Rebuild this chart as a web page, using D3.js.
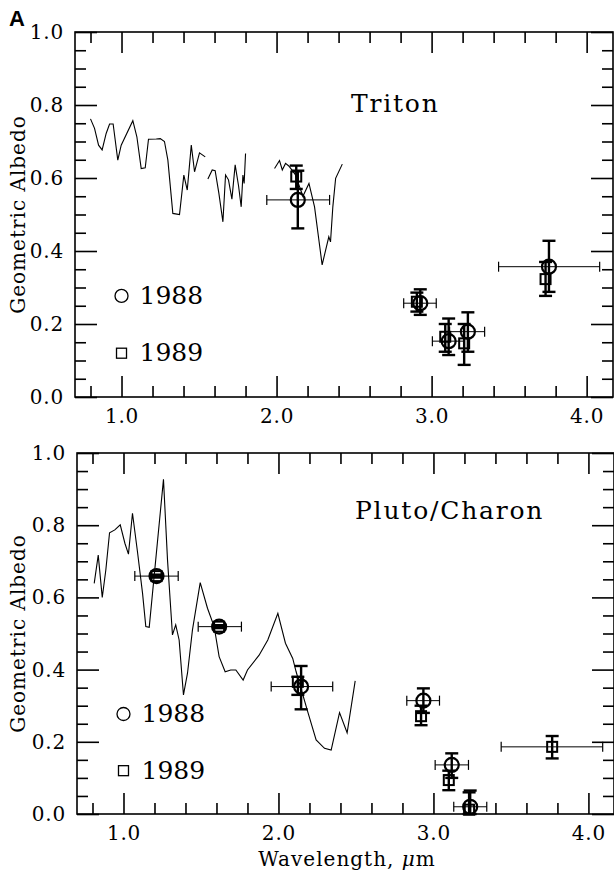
<!DOCTYPE html>
<html>
<head>
<meta charset="utf-8">
<script src="https://cdn.jsdelivr.net/npm/d3@7"></script>
<style>
  body { margin: 0; background: #fff; }
  svg { display: block; }
  .tick text { font-family: "DejaVu Serif", serif; font-size: 20px; letter-spacing: 0.8px; fill: #000; }
  .domain { stroke: none; }
  .tick line { stroke: #000; stroke-width: 1.6; }
</style>
</head>
<body>
<div id="chart"></div>
<script>
// Geometric albedo vs wavelength, Triton (top) and Pluto/Charon (bottom)

// ---- data ----
// Triton spectrum, three pieces [wavelength um, albedo]
var tritonSpec1 = [[0.80,0.762],[0.826,0.736],[0.852,0.690],[0.875,0.677],[0.901,0.722],[0.923,0.748],[0.946,0.748],[0.976,0.649],[0.998,0.690],[1.073,0.757],[1.099,0.713],[1.127,0.626],[1.153,0.628],[1.174,0.706],[1.224,0.707],[1.25,0.708],[1.277,0.700],[1.299,0.649],[1.331,0.503],[1.374,0.500],[1.402,0.608],[1.424,0.567],[1.45,0.690],[1.471,0.617],[1.503,0.669],[1.54,0.658]];
var tritonSpec2 = [[1.557,0.597],[1.585,0.622],[1.604,0.620],[1.628,0.558],[1.654,0.480],[1.671,0.608],[1.69,0.595],[1.712,0.542],[1.733,0.636],[1.755,0.578],[1.772,0.521],[1.783,0.608],[1.791,0.585],[1.80,0.667]];
var tritonSpec3 = [[1.987,0.626],[2.019,0.648],[2.037,0.622],[2.058,0.640],[2.079,0.633],[2.12,0.61],[2.17,0.55],[2.209,0.585],[2.245,0.521],[2.294,0.362],[2.337,0.439],[2.348,0.425],[2.363,0.521],[2.381,0.599],[2.424,0.638]];

// Pluto/Charon spectrum
var plutoSpec = [[0.811,0.639],[0.837,0.717],[0.863,0.600],[0.886,0.676],[0.91,0.779],[0.944,0.787],[0.979,0.801],[1.009,0.750],[1.032,0.720],[1.058,0.833],[1.09,0.727],[1.123,0.611],[1.144,0.519],[1.166,0.517],[1.258,0.927],[1.284,0.704],[1.316,0.496],[1.337,0.524],[1.359,0.482],[1.387,0.330],[1.413,0.390],[1.445,0.510],[1.495,0.641],[1.542,0.570],[1.585,0.519],[1.617,0.436],[1.656,0.394],[1.692,0.399],[1.725,0.399],[1.772,0.371],[1.80,0.399],[1.875,0.440],[1.931,0.482],[1.996,0.556],[2.045,0.473],[2.092,0.431],[2.114,0.394],[2.189,0.283],[2.243,0.205],[2.297,0.182],[2.34,0.177],[2.394,0.281],[2.443,0.225],[2.495,0.369]];

// photometry points [wavelength, albedo, error low, error high]
var triton1988 = [[2.137,0.540,0.462,0.620],[2.927,0.257,0.225,0.295],[3.11,0.153,0.115,0.215],[3.234,0.179,0.124,0.232],[3.757,0.357,0.288,0.428]];
var triton1989 = [[2.127,0.604,0.570,0.634],[2.905,0.261,0.234,0.286],[3.088,0.165,0.124,0.200],[3.21,0.147,0.088,0.200],[3.735,0.323,0.277,0.370]];
// filter bandpass [from, to, albedo]
var tritonBands = [[1.937,2.342,0.540],[2.82,3.03,0.257],[3.005,3.21,0.153],[3.116,3.342,0.179],[3.432,4.084,0.357]];

var pluto1988 = [[1.213,0.659,0.655,0.663],[1.617,0.519,0.515,0.523],[2.146,0.353,0.290,0.410],[2.935,0.314,0.280,0.348],[3.118,0.136,0.100,0.168],[3.237,0.020,0.000,0.065]];
var pluto1989 = [[1.213,0.659,0.657,0.661],[1.617,0.519,0.517,0.521],[2.125,0.366,0.330,0.380],[2.92,0.271,0.246,0.300],[3.099,0.094,0.066,0.120],[3.23,0.012,0.000,0.060],[3.766,0.186,0.154,0.216]];
var plutoBands = [[1.073,1.353,0.659],[1.482,1.761,0.519],[1.953,2.35,0.353],[2.828,3.039,0.314],[3.011,3.226,0.136],[3.131,3.344,0.020],[3.437,4.092,0.186]];

var xMajor = [1.0, 2.0, 3.0, 4.0];
var xMinor = [0.8, 1.2, 1.4, 1.6, 1.8, 2.2, 2.4, 2.6, 2.8, 3.2, 3.4, 3.6, 3.8];
var yMajor = [0.0, 0.2, 0.4, 0.6, 0.8, 1.0];
var yMinor = [0.05, 0.1, 0.15, 0.25, 0.3, 0.35, 0.45, 0.5, 0.55, 0.65, 0.7, 0.75, 0.85, 0.9, 0.95];
var legendYears = ["1988", "1989"];

// ---- canvas ----
var width = 614;
var height = 873;
var serif = "'DejaVu Serif', serif";

var svg = d3.select("#chart")
  .append("svg")
  .attr("width", width)
  .attr("height", height);

svg.append("text")
  .attr("x", 9)
  .attr("y", 26)
  .attr("font-family", "'Liberation Sans', Arial, sans-serif")
  .attr("font-weight", "bold")
  .attr("font-size", 22)
  .text("A");

function drawPanel(opt) {
  var xScale = d3.scaleLinear().domain([0.7, opt.xEnd]).range([opt.left, opt.right]);
  var yScale = d3.scaleLinear().domain([0, 1]).range([opt.bottom, opt.top]);
  var g = svg.append("g");

  // frame
  g.append("rect")
    .attr("x", opt.left)
    .attr("y", opt.top)
    .attr("width", opt.right - opt.left)
    .attr("height", opt.bottom - opt.top)
    .attr("fill", "none")
    .attr("stroke", "#000")
    .attr("stroke-width", 1.6);

  // bottom + top
  g.append("g")
    .attr("transform", "translate(0," + opt.bottom + ")")
    .call(d3.axisBottom(xScale).tickValues(xMajor).tickSize(-21).tickSizeOuter(0).tickPadding(12).tickFormat(d3.format(".1f")));
  g.append("g")
    .attr("transform", "translate(0," + opt.bottom + ")")
    .call(d3.axisBottom(xScale).tickValues(xMinor).tickSize(-11).tickSizeOuter(0).tickFormat(""));
  g.append("g")
    .attr("transform", "translate(0," + opt.top + ")")
    .call(d3.axisTop(xScale).tickValues(xMajor).tickSize(-21).tickSizeOuter(0).tickFormat(""));
  g.append("g")
    .attr("transform", "translate(0," + opt.top + ")")
    .call(d3.axisTop(xScale).tickValues(xMinor).tickSize(-11).tickSizeOuter(0).tickFormat(""));

  // left + right
  g.append("g")
    .attr("transform", "translate(" + opt.left + ",0)")
    .call(d3.axisLeft(yScale).tickValues(yMajor).tickSize(-22).tickSizeOuter(0).tickPadding(11).tickFormat(d3.format(".1f")));
  g.append("g")
    .attr("transform", "translate(" + opt.left + ",0)")
    .call(d3.axisLeft(yScale).tickValues(yMinor).tickSize(-11).tickSizeOuter(0).tickFormat(""));
  g.append("g")
    .attr("transform", "translate(" + opt.right + ",0)")
    .call(d3.axisRight(yScale).tickValues(yMajor).tickSize(-22).tickSizeOuter(0).tickFormat(""));
  g.append("g")
    .attr("transform", "translate(" + opt.right + ",0)")
    .call(d3.axisRight(yScale).tickValues(yMinor).tickSize(-11).tickSizeOuter(0).tickFormat(""));

  // y label
  g.append("text")
    .attr("transform", "translate(25," + ((opt.top + opt.bottom) / 2) + ")rotate(-90)")
    .attr("text-anchor", "middle")
    .attr("font-family", serif)
    .attr("font-size", 20)
    .attr("letter-spacing", 1)
    .text("Geometric Albedo");

  // spectrum
  var line = d3.line()
    .x(function(d) { return xScale(d[0]); })
    .y(function(d) { return yScale(d[1]); });
  opt.spectra.forEach(function(s) {
    g.append("path")
      .datum(s)
      .attr("d", line)
      .attr("fill", "none")
      .attr("stroke", "#000")
      .attr("stroke-width", 1.1);
  });

  // filter widths
  var bands = g.selectAll(".band").data(opt.bands).enter().append("g");
  bands.append("line")
    .attr("x1", function(d) { return xScale(d[0]); })
    .attr("x2", function(d) { return xScale(d[1]); })
    .attr("y1", function(d) { return yScale(d[2]); })
    .attr("y2", function(d) { return yScale(d[2]); })
    .attr("stroke", "#000").attr("stroke-width", 1);
  [0, 1].forEach(function(k) {
    bands.append("line")
      .attr("x1", function(d) { return xScale(d[k]); })
      .attr("x2", function(d) { return xScale(d[k]); })
      .attr("y1", function(d) { return yScale(d[2]) - 5; })
      .attr("y2", function(d) { return yScale(d[2]) + 5; })
      .attr("stroke", "#000").attr("stroke-width", 1.2);
  });

  // vertical error bars
  function errBars(data) {
    var e = g.selectAll(null).data(data).enter().append("g");
    e.append("line")
      .attr("x1", function(d) { return xScale(d[0]); })
      .attr("x2", function(d) { return xScale(d[0]); })
      .attr("y1", function(d) { return yScale(d[2]); })
      .attr("y2", function(d) { return yScale(d[3]); })
      .attr("stroke", "#000").attr("stroke-width", 2.4);
    [2, 3].forEach(function(k) {
      e.append("line")
        .attr("x1", function(d) { return xScale(d[0]) - 6.5; })
        .attr("x2", function(d) { return xScale(d[0]) + 6.5; })
        .attr("y1", function(d) { return yScale(d[k]); })
        .attr("y2", function(d) { return yScale(d[k]); })
        .attr("stroke", "#000").attr("stroke-width", 2.4);
    });
  }
  errBars(opt.p1988);
  errBars(opt.p1989);

  g.selectAll(null).data(opt.p1988).enter().append("circle")
    .attr("cx", function(d) { return xScale(d[0]); })
    .attr("cy", function(d) { return yScale(d[1]); })
    .attr("r", 7)
    .attr("fill", "none").attr("stroke", "#000").attr("stroke-width", 2.2);
  g.selectAll(null).data(opt.p1989).enter().append("rect")
    .attr("x", function(d) { return xScale(d[0]) - 5; })
    .attr("y", function(d) { return yScale(d[1]) - 5; })
    .attr("width", 10).attr("height", 10)
    .attr("fill", "none").attr("stroke", "#000").attr("stroke-width", 2);

  // legend
  var ly = [0.277, 0.12];
  g.append("circle")
    .attr("cx", xScale(1.0)).attr("cy", yScale(ly[0])).attr("r", 6.5)
    .attr("fill", "none").attr("stroke", "#000").attr("stroke-width", 1.3);
  g.append("rect")
    .attr("x", xScale(1.0) - 5).attr("y", yScale(ly[1]) - 5)
    .attr("width", 10).attr("height", 10)
    .attr("fill", "none").attr("stroke", "#000").attr("stroke-width", 1.3);
  legendYears.forEach(function(t, i) {
    g.append("text")
      .attr("x", xScale(1.0) + 18)
      .attr("y", yScale(ly[i]) + 8)
      .attr("font-family", serif)
      .attr("font-size", 25)
      .text(t);
  });

  // title
  g.append("text")
    .attr("x", opt.titleX)
    .attr("y", opt.titleY)
    .attr("font-family", serif)
    .attr("font-size", 25)
    .attr("letter-spacing", 1.8)
    .text(opt.title);
}

drawPanel({
  left: 75, right: 613, top: 32, bottom: 397, xEnd: 4.17,
  spectra: [tritonSpec1, tritonSpec2, tritonSpec3],
  p1988: triton1988, p1989: triton1989, bands: tritonBands,
  title: "Triton", titleX: 351, titleY: 112
});

drawPanel({
  left: 77, right: 614, top: 453, bottom: 814, xEnd: 4.165,
  spectra: [plutoSpec],
  p1988: pluto1988, p1989: pluto1989, bands: plutoBands,
  title: "Pluto/Charon", titleX: 355, titleY: 519
});

// x label
var xl = svg.append("text")
  .attr("x", 347)
  .attr("y", 866)
  .attr("text-anchor", "middle")
  .attr("font-family", serif)
  .attr("font-size", 20)
  .attr("letter-spacing", 1);
xl.append("tspan").text("Wavelength, ");
xl.append("tspan").attr("font-style", "italic").text("μ");
xl.append("tspan").text("m");
</script>
</body>
</html>
